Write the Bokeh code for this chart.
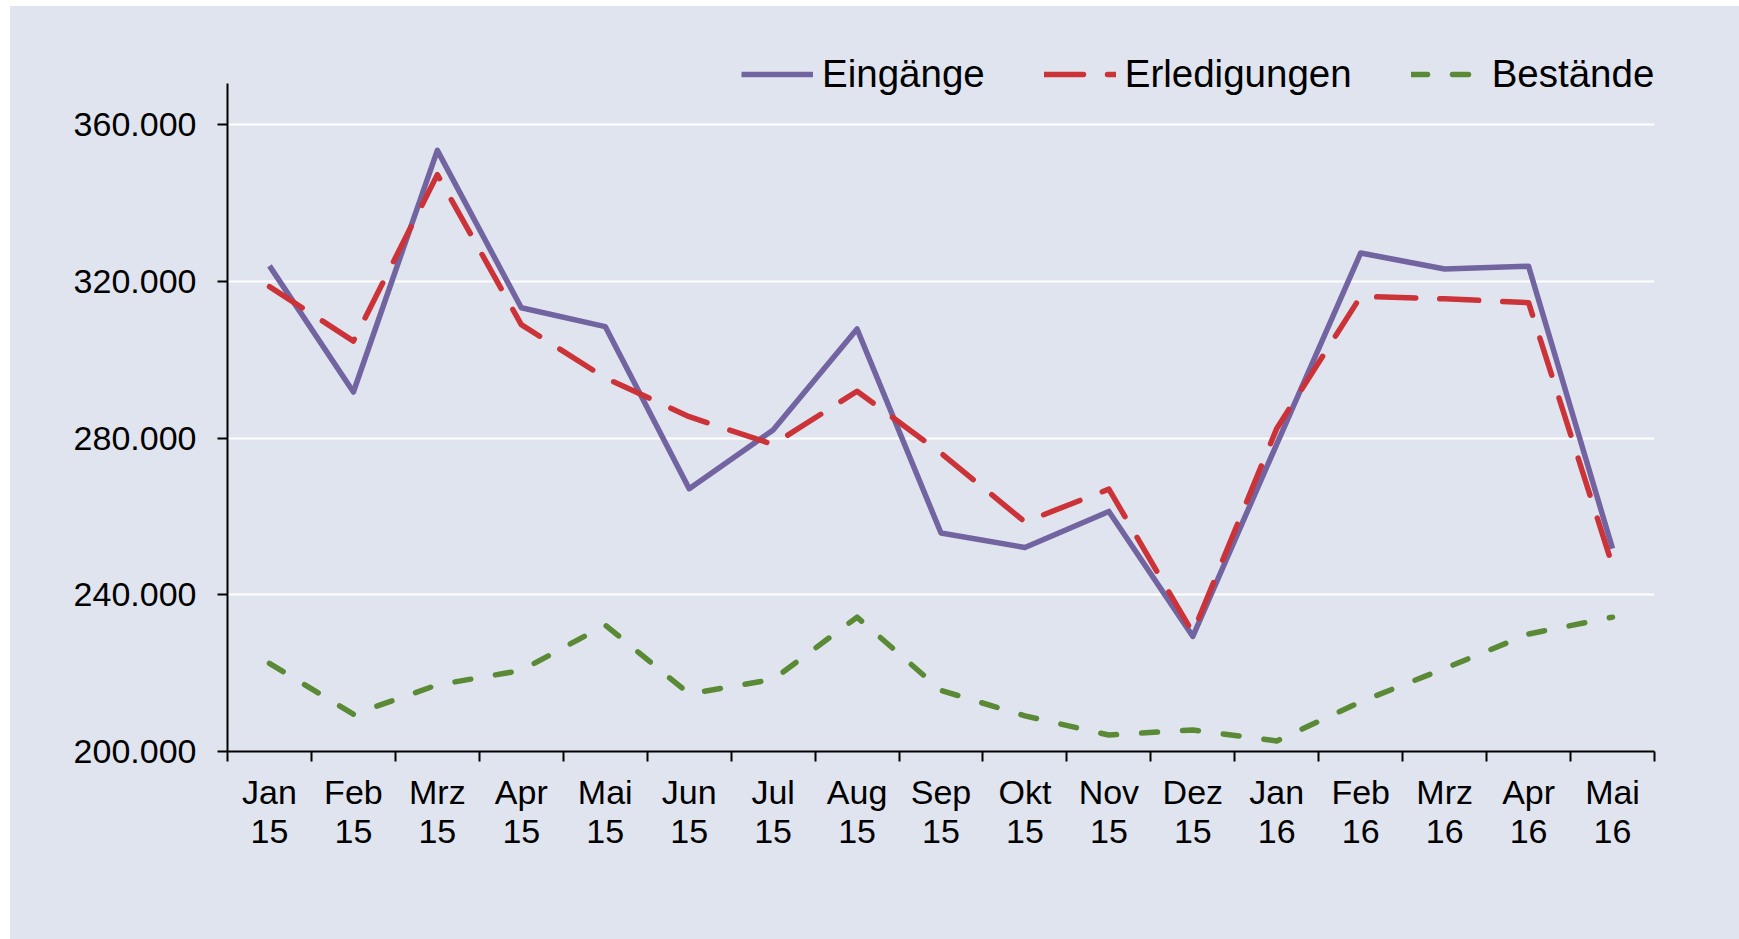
from bokeh.plotting import figure
from bokeh.models import Range1d, FixedTicker, Legend, LegendItem, Spacer
from bokeh.layouts import row, column
from bokeh.embed import file_html
from bokeh.resources import INLINE

# ---- data ----
months = ["Jan", "Feb", "Mrz", "Apr", "Mai", "Jun", "Jul", "Aug", "Sep",
          "Okt", "Nov", "Dez", "Jan", "Feb", "Mrz", "Apr", "Mai"]
years = ["15"] * 12 + ["16"] * 5

eingaenge = [324000, 291800, 353500, 313300, 308500, 267100, 282100, 307900,
             255800, 252100, 261300, 229400, 278500, 327300, 323200, 323900, 251800]
erledigungen = [318700, 304800, 347300, 309000, 295400, 285500, 278400, 292000,
                276200, 258600, 267000, 230300, 282500, 316200, 315600, 314600, 247400]
bestaende = [222500, 209500, 217000, 220700, 232300, 214700, 218400, 234300,
             215600, 209100, 204200, 205500, 202700, 212700, 221200, 230000, 234300]

y_ticks = [200000, 240000, 280000, 320000, 360000]
y_tick_labels = ["200.000", "240.000", "280.000", "320.000", "360.000"]

series_names = ["Eingänge", "Erledigungen", "Bestände"]

# ---- style ----
BG = "#E0E4EE"
FONT = "Liberation Sans"
C_EIN = "#7264A0"
C_ERL = "#CC3338"
C_BES = "#5A8A35"

n = len(months)
xs = [i + 0.5 for i in range(n)]

p = figure(width=1729, height=933, output_backend="svg", toolbar_location=None,
           x_range=Range1d(0, n), y_range=Range1d(200000, 390230),
           min_border_left=217, min_border_right=85,
           min_border_top=0, min_border_bottom=188)
p.background_fill_color = BG
p.border_fill_color = BG
p.outline_line_color = None
p.styles = {"background-color": BG}

# grid
p.xgrid.visible = False
p.ygrid.ticker = FixedTicker(ticks=y_ticks)
p.ygrid.grid_line_color = "white"
p.ygrid.grid_line_width = 2

# y axis
p.yaxis.ticker = FixedTicker(ticks=y_ticks)
p.yaxis.bounds = (200000, 370500)
p.yaxis.major_label_overrides = {t: l for t, l in zip(y_ticks, y_tick_labels)}
p.yaxis.axis_line_color = "black"
p.yaxis.axis_line_width = 2
p.yaxis.major_tick_line_color = "black"
p.yaxis.major_tick_line_width = 2
p.yaxis.major_tick_out = 10
p.yaxis.major_tick_in = 0
p.yaxis.minor_tick_line_color = None
p.yaxis.major_label_standoff = 21
p.yaxis.major_label_text_font = FONT
p.yaxis.major_label_text_font_size = "34px"
p.yaxis.major_label_text_color = "black"

# x axis: labels at centers, tick marks at category boundaries
p.xaxis.ticker = FixedTicker(ticks=xs, minor_ticks=list(range(n + 1)))
p.xaxis.major_label_overrides = {x: f"{m}\n{y}" for x, m, y in zip(xs, months, years)}
p.xaxis.axis_line_color = "black"
p.xaxis.axis_line_width = 2
p.xaxis.major_tick_line_color = None
p.xaxis.major_tick_out = 0
p.xaxis.major_tick_in = 0
p.xaxis.minor_tick_line_color = "black"
p.xaxis.minor_tick_line_width = 2
p.xaxis.minor_tick_out = 10
p.xaxis.minor_tick_in = 0
p.xaxis.major_label_standoff = 11
p.xaxis.major_label_text_font = FONT
p.xaxis.major_label_text_font_size = "34px"
p.xaxis.major_label_text_line_height = 1.03
p.xaxis.major_label_text_color = "black"
p.xaxis.major_label_orientation = "horizontal"

# lines
r_ein = p.line(xs, eingaenge, line_color=C_EIN, line_width=5.5, line_join="round")
r_erl = p.line(xs, erledigungen, line_color=C_ERL, line_width=5.5,
               line_dash="39 24", line_cap="round", line_join="round")
r_bes = p.line(xs, bestaende, line_color=C_BES, line_width=5.5,
               line_dash="16 25", line_cap="round", line_join="round")

legend = Legend(items=[LegendItem(label=series_names[0], renderers=[r_ein]),
                       LegendItem(label=series_names[1], renderers=[r_erl]),
                       LegendItem(label=series_names[2], renderers=[r_bes])],
                orientation="horizontal", location=(514, 654),
                border_line_color=None, background_fill_alpha=0,
                padding=0, margin=0, spacing=59, label_standoff=9,
                glyph_width=72, glyph_height=46, label_height=46,
                label_text_font=FONT, label_text_font_size="38.5px",
                label_text_color="black")
p.add_layout(legend)

layout = column(Spacer(height=6), row(Spacer(width=10), p))

open("out.html", "w").write(file_html(layout, INLINE))
